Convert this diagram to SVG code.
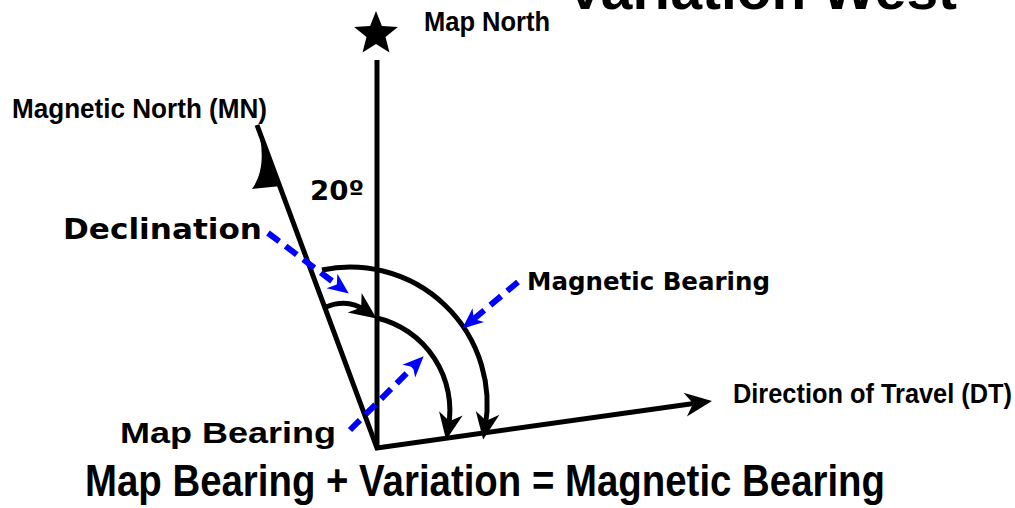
<svg xmlns="http://www.w3.org/2000/svg" width="1015" height="508" viewBox="0 0 1015 508">
<style>
.cond{font-family:"Liberation Sans",Arial,sans-serif;font-weight:bold;fill:#000}
.wide{font-family:"DejaVu Sans","Liberation Sans",sans-serif;font-weight:bold;fill:#000}
.blk{fill:none;stroke:#000;stroke-width:5}
.blu{fill:none;stroke:#0000ff;stroke-width:6;stroke-dasharray:14 8}
</style>
<defs>
<marker id="ah" markerUnits="userSpaceOnUse" orient="auto" refX="0" refY="0" markerWidth="30" markerHeight="30" overflow="visible">
<path d="M13,0 L-14,-12 L-6,0 L-14,12 Z" fill="#000"/>
</marker>
<marker id="bh" markerUnits="userSpaceOnUse" orient="auto" refX="0" refY="0" markerWidth="20" markerHeight="20" overflow="visible">
<path d="M9,0 L-12,-9 L-6,0 L-12,9 Z" fill="#0000ff"/>
</marker>
</defs>
<rect width="1015" height="508" fill="#fff"/>

<g id="title"><text class="cond" x="566" y="9" font-size="56" textLength="391" lengthAdjust="spacingAndGlyphs">Variation West</text></g>

<g id="map-north">
<polygon points="376,11 381.9,25.9 397.9,26.9 385.5,37.1 389.5,52.6 376,44 362.5,52.6 366.5,37.1 354.1,26.9 370.1,25.9" fill="#000"/>
<text class="cond" x="424" y="31" font-size="27" textLength="126" lengthAdjust="spacingAndGlyphs">Map North</text>
</g>

<g id="magnetic-north">
<path d="M257,124 C264,150 264,172 252,189 L281,186 Z" fill="#000"/>
<text class="cond" x="12" y="118" font-size="28" textLength="255" lengthAdjust="spacingAndGlyphs">Magnetic North (MN)</text>
</g>

<g id="angle-label"><text class="wide" x="310" y="200" font-size="27" textLength="54" lengthAdjust="spacingAndGlyphs">20º</text></g>

<g id="declination"><text class="wide" x="63" y="239" font-size="28" textLength="199" lengthAdjust="spacingAndGlyphs">Declination</text></g>

<g id="magnetic-bearing"><text class="wide" x="527" y="290" font-size="25" textLength="243" lengthAdjust="spacingAndGlyphs">Magnetic Bearing</text></g>

<g id="map-bearing"><text class="cond" x="120" y="443" font-size="30" textLength="216" lengthAdjust="spacingAndGlyphs">Map Bearing</text></g>

<g id="direction-of-travel"><text class="cond" x="733" y="403" font-size="28" textLength="279" lengthAdjust="spacingAndGlyphs">Direction of Travel (DT)</text></g>

<g id="equation"><text class="cond" x="85" y="496" font-size="44" textLength="800" lengthAdjust="spacingAndGlyphs">Map Bearing + Variation = Magnetic Bearing</text></g>

<g id="connectors">
<line class="blk" x1="377" y1="60" x2="377" y2="448"/>
<path class="blk" d="M257,125 L377,448 L699.1,402.7" stroke-linejoin="miter" marker-end="url(#ah)"/>
<path class="blk" d="M322,270 A137,137 0 0 1 485.3,426.7" marker-end="url(#ah)"/>
<path class="blk" d="M377,318 A95,95 0 0 1 448.4,427.1" marker-end="url(#ah)"/>
<path class="blk" d="M326,307 Q348,298 366,311" marker-end="url(#ah)"/>
<path class="blu" d="M268,233 L341.6,288.2" marker-end="url(#bh)"/>
<path class="blu" d="M350,430 L417.3,362.7" marker-end="url(#bh)"/>
<path class="blu" d="M518,282 L469.1,322.9" marker-end="url(#bh)"/>
</g>
</svg>
